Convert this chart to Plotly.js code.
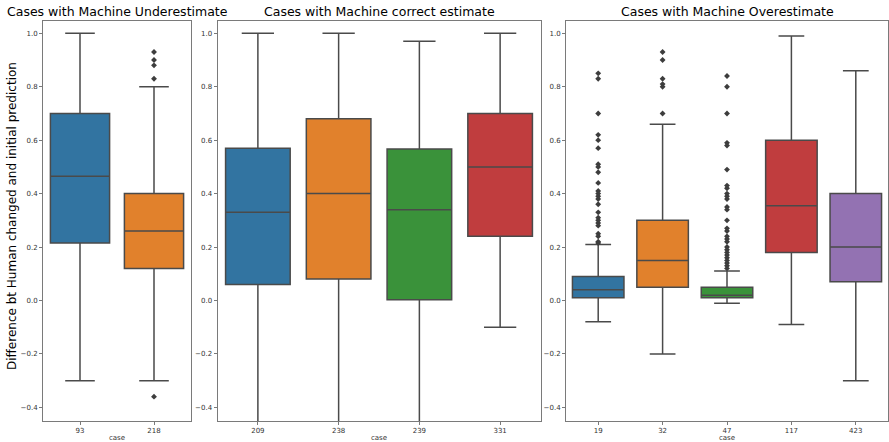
<!DOCTYPE html>
<html>
<head>
<meta charset="utf-8">
<script src="https://cdn.plot.ly/plotly-3.0.1.min.js"></script>
<style>html,body{margin:0;padding:0;background:#fff;}#chart{width:889px;height:442px;}</style>
</head>
<body>
<div id="chart"></div>
<script>
// ---- Data ----
const panelTitles = ["Cases with Machine Underestimate", "Cases with Machine correct estimate", "Cases with Machine Overestimate"];
const yAxisTitle = "Difference bt Human changed and initial prediction";
const xAxisTitle = "case";

// Panel 1: underestimate
const casesUnder = ["93", "218"];
const q1Under = [0.215, 0.12];
const medUnder = [0.465, 0.26];
const q3Under = [0.70, 0.40];
const loUnder = [-0.30, -0.30];
const hiUnder = [1.00, 0.80];
const outUnder = [[], [0.83, 0.88, 0.90, 0.93, -0.36]];

// Panel 2: correct estimate
const casesCorrect = ["209", "238", "239", "331"];
const q1Correct = [0.06, 0.08, 0.003, 0.24];
const medCorrect = [0.33, 0.40, 0.34, 0.50];
const q3Correct = [0.57, 0.68, 0.567, 0.70];
const loCorrect = [-0.60, -0.60, -0.60, -0.10];
const hiCorrect = [1.00, 1.00, 0.97, 1.00];
const outCorrect = [[], [], [], []];

// Panel 3: overestimate
const casesOver = ["19", "32", "47", "117", "423"];
const q1Over = [0.01, 0.05, 0.01, 0.18, 0.07];
const medOver = [0.04, 0.15, 0.02, 0.355, 0.20];
const q3Over = [0.09, 0.30, 0.05, 0.60, 0.40];
const loOver = [-0.08, -0.20, -0.01, -0.09, -0.30];
const hiOver = [0.21, 0.66, 0.11, 0.99, 0.86];
const outOver = [
  [0.85, 0.83, 0.70, 0.62, 0.60, 0.57, 0.51, 0.50, 0.48, 0.44, 0.41, 0.40, 0.39, 0.38, 0.36, 0.33, 0.31, 0.30, 0.29, 0.28, 0.25, 0.24, 0.22, 0.215],
  [0.93, 0.90, 0.83, 0.81, 0.80, 0.70],
  [0.84, 0.80, 0.70, 0.59, 0.58, 0.49, 0.43, 0.42, 0.40, 0.39, 0.38, 0.35, 0.34, 0.30, 0.27, 0.26, 0.24, 0.23, 0.22, 0.20, 0.19, 0.18, 0.17, 0.16, 0.15, 0.14, 0.13, 0.12],
  [],
  []
];

const yTickVals = [-0.4, -0.2, 0.0, 0.2, 0.4, 0.6, 0.8, 1.0];

// ---- Styles ----
const palette = ["#3274a1", "#e1812c", "#3a923a", "#c03d3e", "#9372b2"];
const lineCol = "#4a4a4a";
const spineCol = "#7a7a7a";
const font = "DejaVu Sans, sans-serif";
const W = 889, H = 442;
const domains = [[43 / W, 191 / W], [217.5 / W, 540.5 / W], [566 / W, 888 / W]];
const yDom = [1 - 421 / H, 1 - 21 / H];

const panels = [
  {cases: casesUnder, q1: q1Under, med: medUnder, q3: q3Under, lo: loUnder, hi: hiUnder, out: outUnder},
  {cases: casesCorrect, q1: q1Correct, med: medCorrect, q3: q3Correct, lo: loCorrect, hi: hiCorrect, out: outCorrect},
  {cases: casesOver, q1: q1Over, med: medOver, q3: q3Over, lo: loOver, hi: hiOver, out: outOver}
];

const traces = [];
const layout = {
  width: W, height: H,
  margin: {l: 0, r: 0, t: 0, b: 0},
  paper_bgcolor: "#fff", plot_bgcolor: "#fff",
  showlegend: false,
  font: {family: font, color: "#333"},
  annotations: []
};

panels.forEach((p, pi) => {
  const sfx = pi === 0 ? "" : String(pi + 1);
  const xa = "x" + sfx, ya = "y" + sfx;
  p.cases.forEach((c, i) => {
    traces.push({
      type: "box",
      x: [c],
      q1: [p.q1[i]], median: [p.med[i]], q3: [p.q3[i]],
      lowerfence: [p.lo[i]], upperfence: [p.hi[i]],
      width: 0.8,
      whiskerwidth: 0.5,
      fillcolor: palette[i],
      line: {color: lineCol, width: 1.5},
      boxpoints: false,
      hoverinfo: "skip",
      xaxis: xa, yaxis: ya
    });
    if (p.out[i].length) {
      traces.push({
        type: "scatter", mode: "markers",
        x: p.out[i].map(() => c), y: p.out[i],
        marker: {symbol: "diamond", size: 4.5, color: "#3d3d3d"},
        hoverinfo: "skip",
        xaxis: xa, yaxis: ya
      });
    }
  });
  layout["xaxis" + sfx] = {
    domain: domains[pi], anchor: ya,
    type: "category", categoryorder: "array", categoryarray: p.cases,
    range: [-0.5, p.cases.length - 0.5],
    showline: true, mirror: true, linecolor: spineCol, linewidth: 1,
    ticks: "outside", ticklen: 3, tickcolor: spineCol,
    tickfont: {size: 7, family: font, color: "#333"},
    showgrid: false, zeroline: false,
    title: {text: xAxisTitle, font: {size: 7, family: font, color: "#333"}, standoff: 3}
  };
  layout["yaxis" + sfx] = {
    domain: yDom, anchor: xa,
    range: [-0.451, 1.046],
    tickvals: yTickVals, tickformat: ".1f",
    showline: true, mirror: true, linecolor: spineCol, linewidth: 1,
    ticks: "outside", ticklen: 3, tickcolor: spineCol,
    tickfont: {size: 7, family: font, color: "#333"},
    showgrid: false, zeroline: false
  };
  layout.annotations.push({
    text: panelTitles[pi],
    xref: "paper", yref: "paper",
    x: (domains[pi][0] + domains[pi][1]) / 2, y: 1 - 21 / H,
    xanchor: "center", yanchor: "bottom",
    showarrow: false,
    font: {size: 12.5, family: font, color: "#000"}
  });
});

layout.annotations.push({
  text: yAxisTitle,
  xref: "paper", yref: "paper",
  x: 12 / W, y: 1 - 216 / H,
  xanchor: "center", yanchor: "middle",
  textangle: -90, showarrow: false,
  font: {size: 12, family: font, color: "#000"}
});

Plotly.newPlot("chart", traces, layout, {displayModeBar: false, staticPlot: true});
</script>
</body>
</html>
